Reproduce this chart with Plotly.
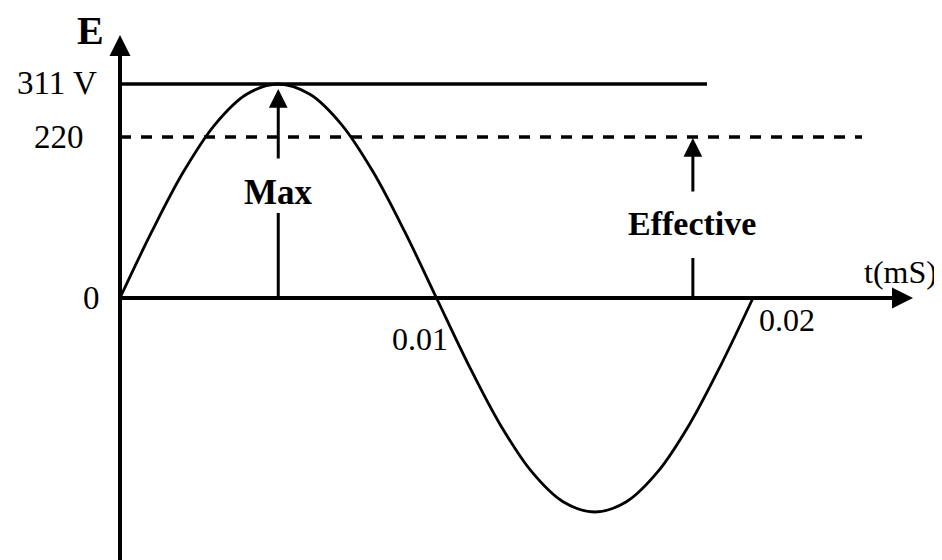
import plotly.graph_objects as go

# ---- data ----
t_ms = [0.000, 0.001, 0.002, 0.003, 0.004, 0.005, 0.006, 0.007, 0.008, 0.009, 0.010,
        0.011, 0.012, 0.013, 0.014, 0.015, 0.016, 0.017, 0.018, 0.019, 0.020]
emf = [0, 96, 183, 252, 296, 311, 296, 252, 183, 96, 0,
       -96, -183, -252, -296, -311, -296, -252, -183, -96, 0]

peak_value = 311            # "311 V" line
effective_drawn = 234       # dashed line as drawn (labelled 220)
y_tick_labels = ["311 V", "220", "0"]
x_tick_values = [0.01, 0.02]
x_tick_labels = ["0.01", "0.02"]
t_max = 0.005               # Max arrow position
t_eff = 0.0181              # Effective arrow position

# ---- scale (anchors given in window pixels; page body has an 8px margin) ----
OFF = 8
W, H = 942 - OFF, 560 - OFF
x0_px, x1_px = 120 - OFF, 753 - OFF      # t=0 and t=0.02
y0_px, yp_px = 298 - OFF, 84 - OFF       # E=0 and E=311
sx = (x1_px - x0_px) / 0.02
sy = (y0_px - yp_px) / peak_value
xr = [-x0_px / sx, (W - x0_px) / sx]
yr = [-(H - y0_px) / sy, y0_px / sy]

def T(px):
    return (px - OFF - x0_px) / sx

def V(py):
    return (y0_px - (py - OFF)) / sy

fig = go.Figure()

# sine curve
fig.add_trace(go.Scatter(x=t_ms, y=emf, mode="lines", line=dict(color="black", width=2.8, shape="spline"),
                         hoverinfo="skip", showlegend=False))
# y axis line
fig.add_trace(go.Scatter(x=[0, 0], y=[yr[0] - 10, V(50)], mode="lines",
                         line=dict(color="black", width=4), hoverinfo="skip", showlegend=False))
# x axis line
fig.add_trace(go.Scatter(x=[0, T(895)], y=[0, 0], mode="lines",
                         line=dict(color="black", width=4), hoverinfo="skip", showlegend=False))
# 311 line
fig.add_trace(go.Scatter(x=[0, T(707)], y=[peak_value, peak_value], mode="lines",
                         line=dict(color="black", width=3.5), hoverinfo="skip", showlegend=False))
# 220 dashed line
fig.add_trace(go.Scatter(x=[0, T(862)], y=[effective_drawn, effective_drawn], mode="lines",
                         line=dict(color="black", width=3.5, dash="11px,10px"), hoverinfo="skip", showlegend=False))
# lower stems of the arrows
fig.add_trace(go.Scatter(x=[t_max, t_max], y=[0, V(213)], mode="lines",
                         line=dict(color="black", width=3), hoverinfo="skip", showlegend=False))
fig.add_trace(go.Scatter(x=[t_eff, t_eff], y=[0, V(258)], mode="lines",
                         line=dict(color="black", width=3), hoverinfo="skip", showlegend=False))

def arrow(xt, yt, xa, ya, width, size):
    fig.add_annotation(x=xt, y=yt, ax=xa, ay=ya, xref="x", yref="y", axref="x", ayref="y",
                       text="", showarrow=True, arrowhead=2, arrowwidth=width,
                       arrowsize=size, arrowcolor="black")

arrow(0, V(35), 0, V(80), 4, 1.05)          # y axis head
arrow(T(913), 0, T(860), 0, 4, 1.05)        # x axis head
arrow(t_max, V(89), t_max, V(160), 3, 1.25)  # Max arrow
arrow(t_eff, V(138), t_eff, V(193), 3, 1.25) # Effective arrow

serif = "Liberation Serif, Times New Roman, serif"

def label(txt, x, y, size, bold=False, xanchor="center", xshift=0, yshift=0):
    if bold:
        txt = "<b>" + txt + "</b>"
    fig.add_annotation(x=x, y=y, xref="x", yref="y", text=txt, showarrow=False,
                       xanchor=xanchor, yanchor="middle", xshift=xshift, yshift=yshift,
                       font=dict(family=serif, size=size, color="black"))

label("E", 0, V(30), 40, bold=True, xshift=-30)
label(y_tick_labels[0], 0, peak_value, 33, xanchor="right", xshift=-21, yshift=1)
label(y_tick_labels[1], 0, effective_drawn, 33, xanchor="right", xshift=-34)
label(y_tick_labels[2], 0, 0, 33, xshift=-29)
label(x_tick_labels[0], x_tick_values[0], 0, 32, xshift=-17, yshift=-41)
label(x_tick_labels[1], x_tick_values[1], 0, 32, xshift=34, yshift=-22)
label("Max", t_max, V(192), 35, bold=True)
label("Effective", t_eff, V(223), 34, bold=True, xshift=-1)
label("t(mS)", T(900), V(272), 32)

fig.update_layout(width=W, height=H, margin=dict(l=0, r=0, t=0, b=0),
                  paper_bgcolor="white", plot_bgcolor="white",
                  xaxis=dict(range=xr, visible=False, fixedrange=True),
                  yaxis=dict(range=yr, visible=False, fixedrange=True))

fig.write_html("out.html")
